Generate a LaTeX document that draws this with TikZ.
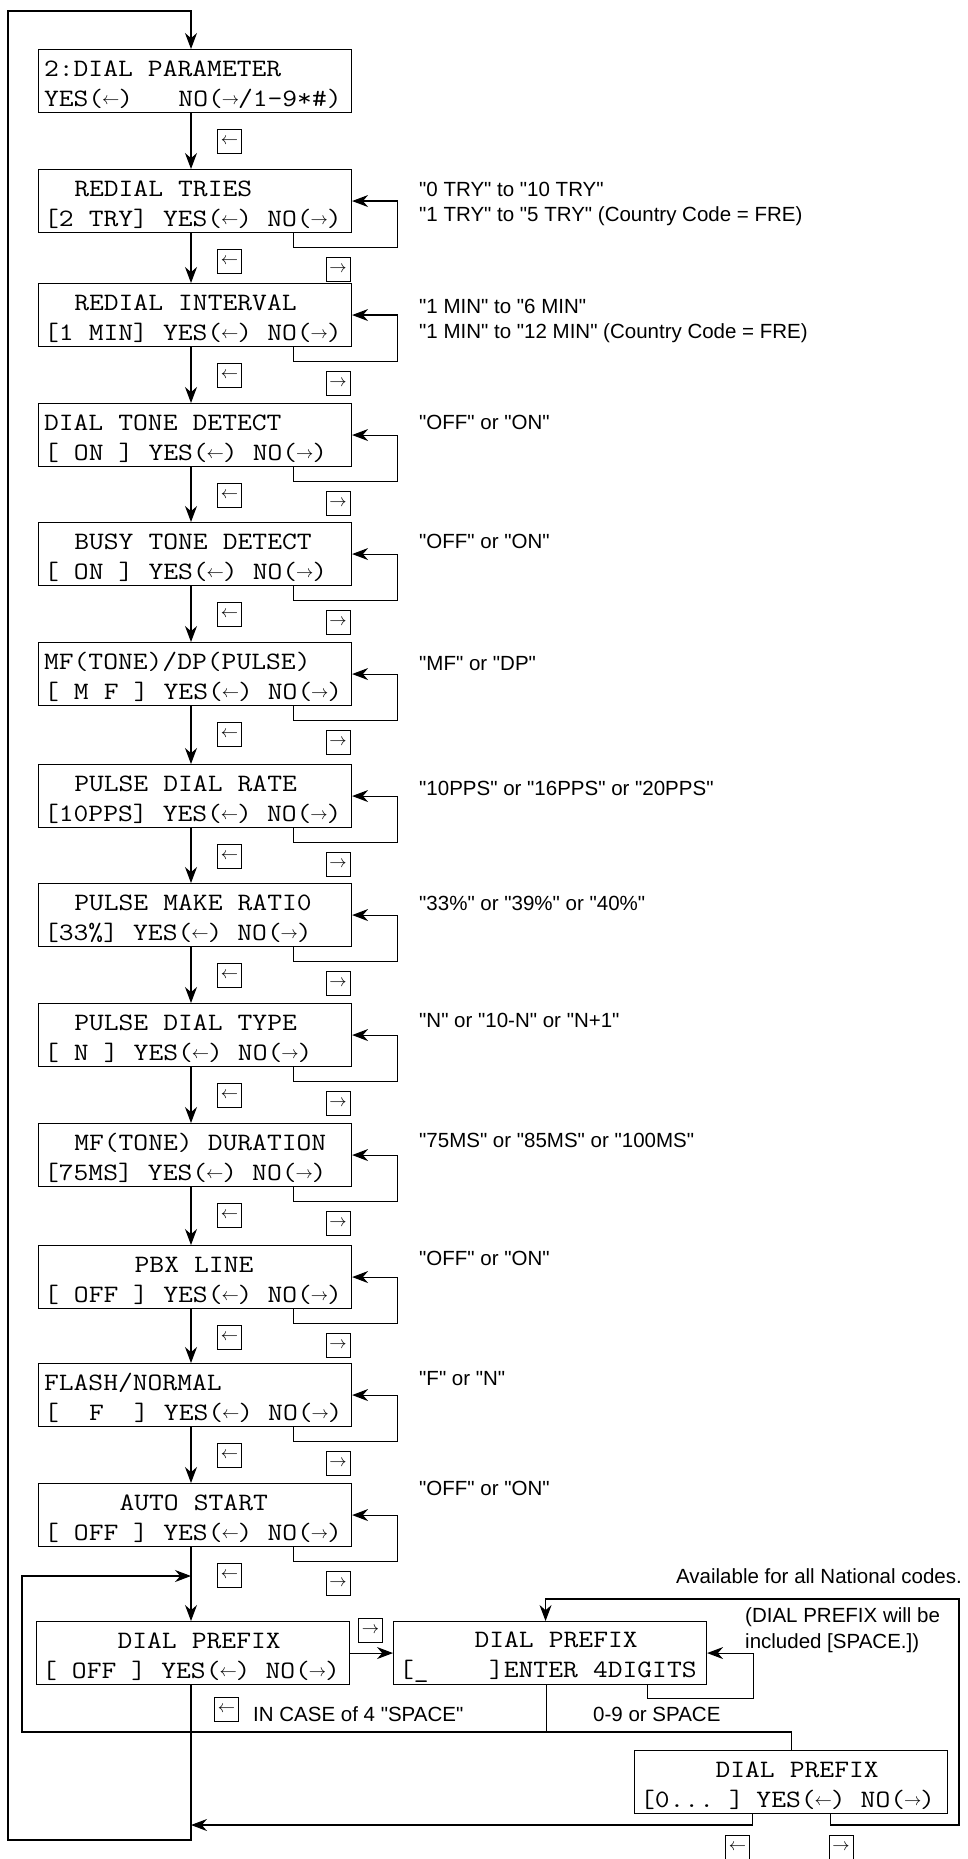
\documentclass[tikz,border=0pt]{standalone}
\usepackage{fontspec}
\usepackage{tikz}
\usetikzlibrary{arrows.meta}
\newfontfamily\notefont{Liberation Sans}
\newfontfamily\lcdfont[FakeStretch=1.15]{Latin Modern Mono}
\newcommand{\lcdstrut}{\rule[-3pt]{0pt}{27pt}}
\newcommand{\lcdrows}[2]{\spaceskip=15.1pt\relax\mbox{\lcdstrut#1}\\\mbox{\lcdstrut#2}}
\newcommand{\larr}{\makebox[15.1pt]{\raisebox{2.5pt}{\fontsize{16}{16}\selectfont$\leftarrow$}}}
\newcommand{\rarr}{\makebox[15.1pt]{\raisebox{2.5pt}{\fontsize{16}{16}\selectfont$\rightarrow$}}}
\begin{document}
\begin{tikzpicture}[x=1pt,y=-1pt,
		lcd/.style={draw,line width=1.1pt,minimum width=313pt,minimum height=63pt,inner xsep=5.5pt,inner ysep=0pt,text width=302pt,align=left,anchor=north west,font=\lcdfont\fontsize{25}{30}\selectfont},
		keybox/.style={draw,line width=1pt,minimum size=24pt,inner sep=0pt,font=\fontsize{19}{19}\selectfont},
		note/.style={anchor=base west,inner sep=0pt,font=\notefont\fontsize{20.5}{24}\selectfont},
		flow/.style={line width=1.1pt,-{Stealth[length=16pt,width=12pt]}},
		wire/.style={line width=1.1pt}]
	\useasboundingbox (0,0) rectangle (967,1859);
	\coordinate (spine) at (191,0);
	
	\node[lcd] (b1) at (38,49) {\lcdrows{2:DIAL PARAMETER}{YES(\larr)~~~NO(\rarr/1-9*\#)}};
	\node[lcd] (b2) at (38,169) {\lcdrows{~~REDIAL TRIES}{[2 TRY] YES(\larr) NO(\rarr)}};
	\node[lcd] (b3) at (38,283) {\lcdrows{~~REDIAL INTERVAL}{[1 MIN] YES(\larr) NO(\rarr)}};
	\node[lcd] (b4) at (38,403) {\lcdrows{DIAL TONE DETECT}{[ ON ] YES(\larr) NO(\rarr)}};
	\node[lcd] (b5) at (38,522) {\lcdrows{~~BUSY TONE DETECT}{[ ON ] YES(\larr) NO(\rarr)}};
	\node[lcd] (b6) at (38,642) {\lcdrows{MF(TONE)/DP(PULSE)}{[ M F ] YES(\larr) NO(\rarr)}};
	\node[lcd] (b7) at (38,764) {\lcdrows{~~PULSE DIAL RATE}{[10PPS] YES(\larr) NO(\rarr)}};
	\node[lcd] (b8) at (38,883) {\lcdrows{~~PULSE MAKE RATI0}{[33\%] YES(\larr) NO(\rarr)}};
	\node[lcd] (b9) at (38,1003) {\lcdrows{~~PULSE DIAL TYPE}{[ N ] YES(\larr) NO(\rarr)}};
	\node[lcd] (b10) at (38,1123) {\lcdrows{~~MF(TONE) DURATION}{[75MS] YES(\larr) NO(\rarr)}};
	\node[lcd] (b11) at (38,1245) {\lcdrows{~~~~~~PBX LINE}{[ OFF ] YES(\larr) NO(\rarr)}};
	\node[lcd] (b12) at (38,1363) {\lcdrows{FLASH/NORMAL}{[~~F~~] YES(\larr) NO(\rarr)}};
	\node[lcd] (b13) at (38,1483) {\lcdrows{~~~~~AUTO START}{[ OFF ] YES(\larr) NO(\rarr)}};
	\node[lcd] (dp1) at (36,1621) {\lcdrows{~~~~~DIAL PREFIX}{[ OFF ] YES(\larr) NO(\rarr)}};
	\node[lcd] (dp2) at (393,1621) {\lcdrows{~~~~~DIAL PREFIX}{[\_~~~~]ENTER 4DIGITS}};
	\node[lcd] (dp3) at (634,1750) {\lcdrows{~~~~~DIAL PREFIX}{[0...~] YES(\larr) NO(\rarr)}};
	
	\foreach \i [count=\j from 2] in {1,...,12}
		\draw[flow] (b\i.south -| spine) -- (b\j.north -| spine);
	\draw[flow] (b13.south -| spine) -- (dp1.north -| spine);
	\foreach \i in {1,...,13}
		\node[keybox] (yes\i) at ([xshift=34.5pt,yshift=-28pt]b\i.south) {$\leftarrow$};
	\foreach \i in {2,...,13} {
		\node[keybox] (no\i) at ([xshift=-14pt,yshift=-36pt]b\i.south east) {$\rightarrow$};
		\draw[flow] ([xshift=-59pt]b\i.south east) -- ++(0,14) -| ([xshift=45pt]b\i.east) -- (b\i.east);
	}
	
	\coordinate (outerbot) at (8,1840);
	\coordinate (outertop) at (8,11);
	\draw[flow] (dp1.south -| spine) |- (outerbot) -- (outertop) -| (b1.north -| spine);
	
	\draw[flow] (dp1) -- (dp2);
	\node[keybox] (nodp1) at (370.5,1630) {$\rightarrow$};
	\draw[flow] ([xshift=-60pt]dp2.south east) -- ++(0,13) -| ([xshift=46pt]dp2.east) -- (dp2.east);
	
	\coordinate (retleft) at (22,1732);
	\coordinate (retin) at (191,1576);
	\draw[wire] ([xshift=-3.5pt]dp2.south) -- ([xshift=-3.5pt]dp2.south |- retleft);
	\draw[flow] (dp3.north) |- (retleft) |- (retin);
	\node[keybox] (yesdp2) at (226.5,1709.5) {$\leftarrow$};
	
	\coordinate (retbot) at (191,1825);
	\coordinate (rbot) at (959,1825);
	\coordinate (rtop) at (959,1599);
	\draw[flow] ([xshift=-38.5pt]dp3.south) |- (retbot);
	\draw[flow] ([xshift=39.5pt]dp3.south) |- (rbot) -- (rtop) -| ([xshift=-4.5pt]dp2.north);
	\node[keybox] (yesdp3) at (737.5,1847) {$\leftarrow$};
	\node[keybox] (nodp3) at (841,1847) {$\rightarrow$};
	
	\node[note] (r2a) at (419,197) {"0 TRY" to "10 TRY"};
	\node[note] (r2b) at (419,222) {"1 TRY" to "5 TRY" (Country Code = FRE)};
	\node[note] (r3a) at (419,313) {"1 MIN" to "6 MIN"};
	\node[note] (r3b) at (419,338) {"1 MIN" to "12 MIN" (Country Code = FRE)};
	\node[note] (r4) at (419,429) {"OFF" or "ON"};
	\node[note] (r5) at (419,548) {"OFF" or "ON"};
	\node[note] (r6) at (419,670) {"MF" or "DP"};
	\node[note] (r7) at (419,795) {"10PPS" or "16PPS" or "20PPS"};
	\node[note] (r8) at (419,910) {"33\%" or "39\%" or "40\%"};
	\node[note] (r9) at (419,1027) {"N" or "10-N" or "N+1"};
	\node[note] (r10) at (419,1147) {"75MS" or "85MS" or "100MS"};
	\node[note] (r11) at (419,1265) {"OFF" or "ON"};
	\node[note] (r12) at (419,1385) {"F" or "N"};
	\node[note] (r13) at (419,1495) {"OFF" or "ON"};
	\node[note,anchor=base east] (avail) at (962,1583) {Available for all National codes.};
	\node[note] (incl1) at (745,1622) {(DIAL PREFIX will be};
	\node[note] (incl2) at (745,1648) {included [SPACE.])};
	\node[note] (digits) at (593,1721) {0-9 or SPACE};
	\node[note] (incase) at (253,1721) {IN CASE of 4 "SPACE"};
\end{tikzpicture}
\end{document}
